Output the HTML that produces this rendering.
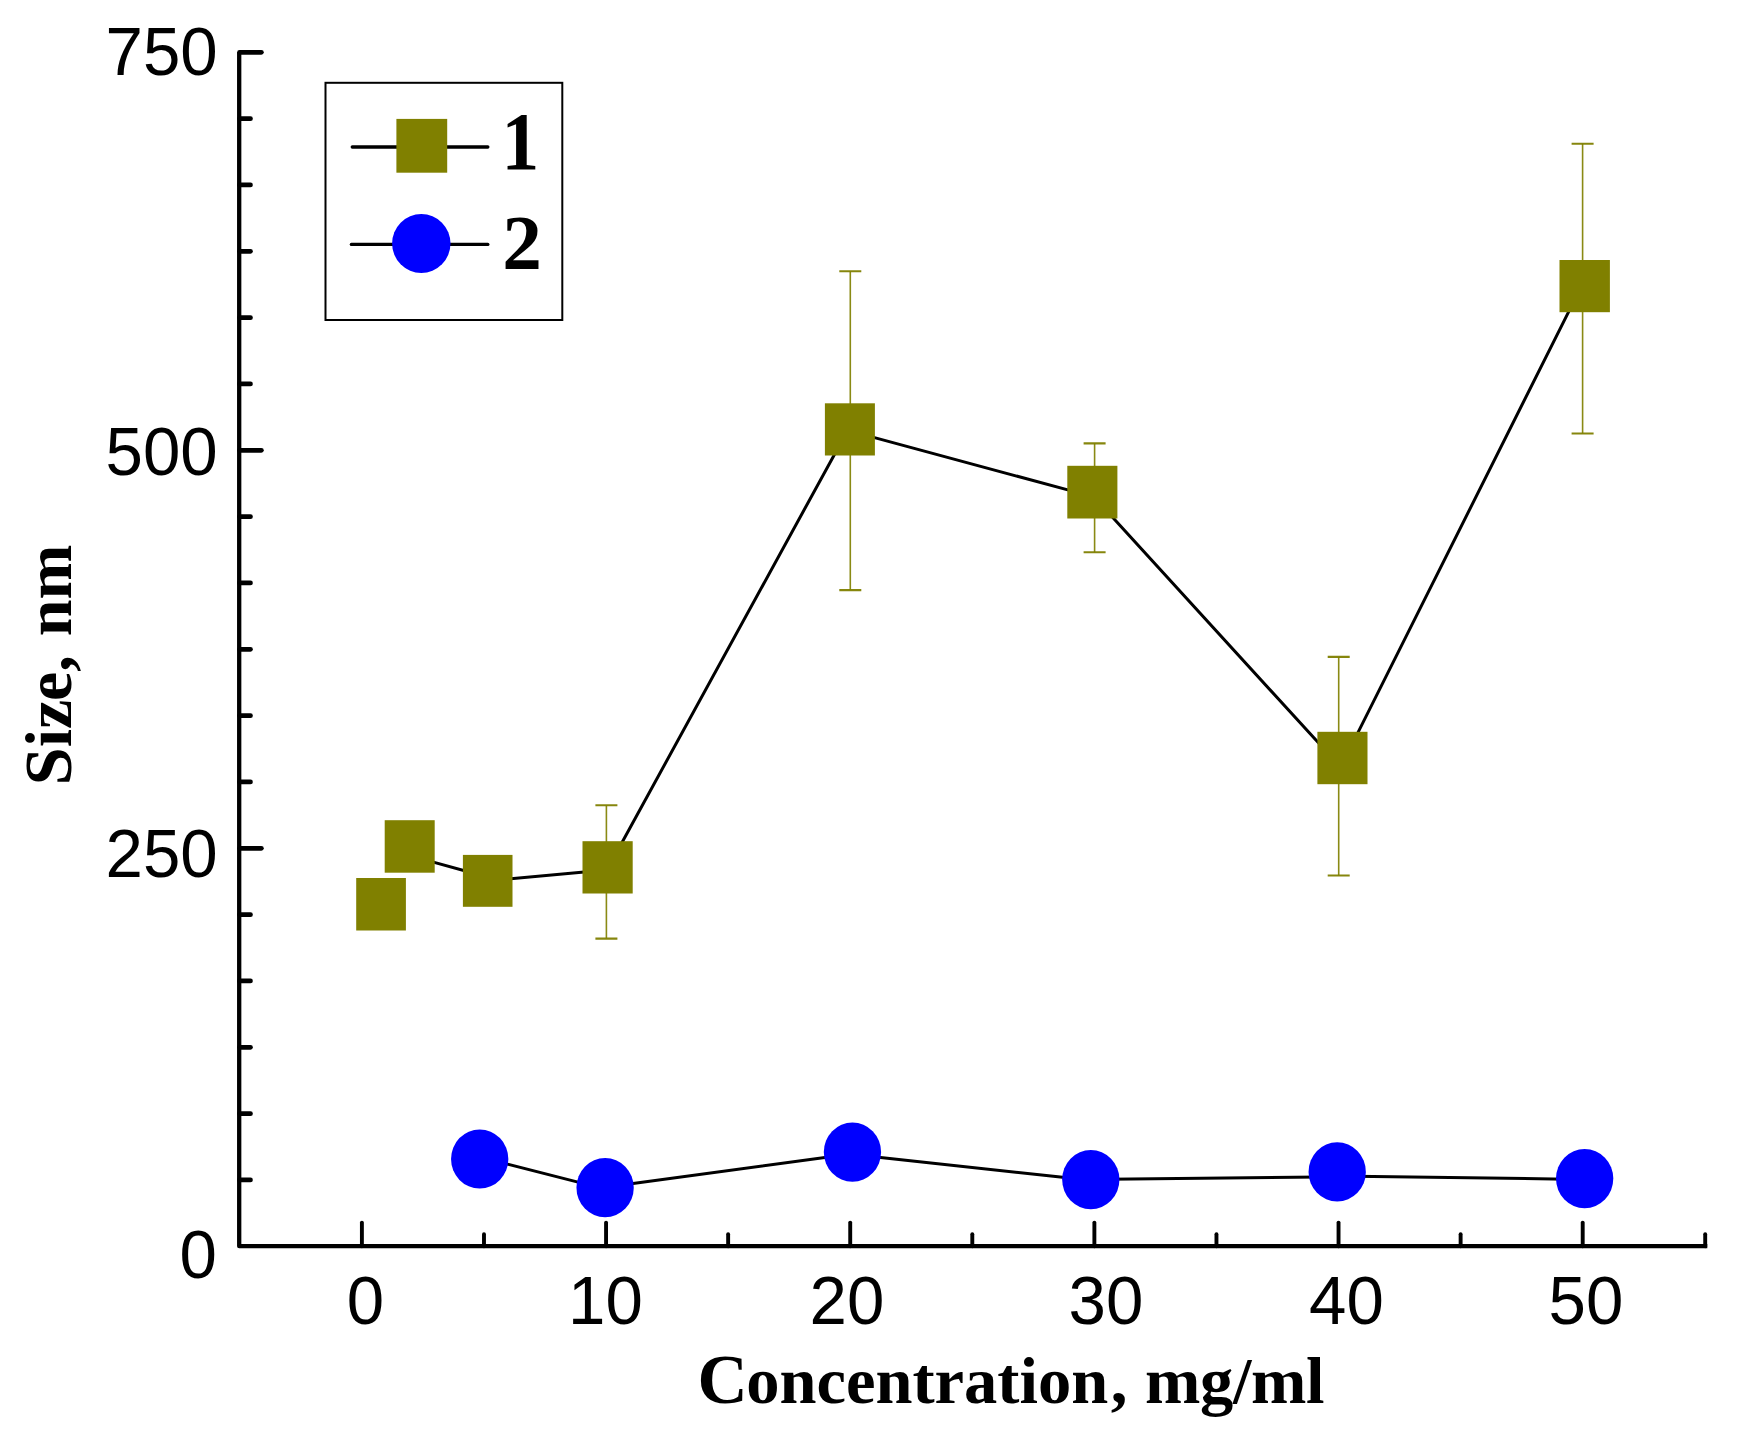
<!DOCTYPE html>
<html lang="en"><head><meta charset="utf-8"><title>Size vs Concentration</title>
<style>html,body{margin:0;padding:0;background:#fff;}svg{display:block;}</style></head>
<body>
<svg width="1739" height="1435" viewBox="0 0 1739 1435">
<rect width="1739" height="1435" fill="#fff"/>
<g stroke="#000" fill="none">
<path d="M239.2 52.3 V1246.2 H1707.3" stroke-width="4.3" stroke-linejoin="round" stroke-linecap="butt"/>
<g stroke-width="4.7" stroke-linecap="round">
<path d="M239.5 1179.97 H250.5"/>
<path d="M239.5 1113.63 H250.5"/>
<path d="M239.5 1047.30 H250.5"/>
<path d="M239.5 980.97 H250.5"/>
<path d="M239.5 914.63 H250.5"/>
<path d="M239.5 848.30 H261.4"/>
<path d="M239.5 781.97 H250.5"/>
<path d="M239.5 715.63 H250.5"/>
<path d="M239.5 649.30 H250.5"/>
<path d="M239.5 582.97 H250.5"/>
<path d="M239.5 516.63 H250.5"/>
<path d="M239.5 450.30 H261.4"/>
<path d="M239.5 383.97 H250.5"/>
<path d="M239.5 317.63 H250.5"/>
<path d="M239.5 251.30 H250.5"/>
<path d="M239.5 184.97 H250.5"/>
<path d="M239.5 118.63 H250.5"/>
<path d="M239.5 52.30 H261.4"/>
</g>
<g stroke-width="3.9" stroke-linecap="round">
<path d="M361.90 1246.2 V1222.6"/>
<path d="M483.98 1246.2 V1234.3"/>
<path d="M606.06 1246.2 V1222.6"/>
<path d="M728.14 1246.2 V1234.3"/>
<path d="M850.22 1246.2 V1222.6"/>
<path d="M972.30 1246.2 V1234.3"/>
<path d="M1094.38 1246.2 V1222.6"/>
<path d="M1216.46 1246.2 V1234.3"/>
<path d="M1338.54 1246.2 V1222.6"/>
<path d="M1460.62 1246.2 V1234.3"/>
<path d="M1582.70 1246.2 V1222.6"/>
<path d="M1705.20 1246.2 V1234.3"/>
</g></g>
<g font-family="'Liberation Sans', Arial, sans-serif" font-size="67.5" fill="#000">
<text transform="translate(217.7,74.6) scale(0.996,1.025)" text-anchor="end">750</text>
<text transform="translate(217.7,475.1) scale(0.996,1.025)" text-anchor="end">500</text>
<text transform="translate(217.7,876.6) scale(0.996,1.025)" text-anchor="end">250</text>
<text transform="translate(217.0,1278.2) scale(0.996,1.025)" text-anchor="end">0</text>
<text transform="translate(346.7,1324.2) scale(0.996,1.025)">0</text>
<text transform="translate(568.0,1324.2) scale(0.996,1.025)">10</text>
<text transform="translate(809.5,1324.2) scale(0.996,1.025)">20</text>
<text transform="translate(1068.5,1324.2) scale(0.996,1.025)">30</text>
<text transform="translate(1309.0,1324.2) scale(0.996,1.025)">40</text>
<text transform="translate(1548.5,1324.2) scale(0.996,1.025)">50</text>
</g>
<g font-family="'Liberation Serif', 'Times New Roman', serif" font-weight="bold" fill="#000">
<text transform="translate(697.6,1403.0)" font-size="66.5"><tspan font-size="69.5">C</tspan><tspan dx="-1.6">oncentration</tspan><tspan dx="2.5">, </tspan><tspan dx="1" letter-spacing="-0.35">mg/ml</tspan></text>
<text transform="translate(71.4,785.4) rotate(-90)" font-size="66"><tspan font-size="68.5">S</tspan>iz<tspan dx="-1.4">e,</tspan><tspan dx="2.5"> nm</tspan></text>
<text transform="translate(501.6,169.3) scale(0.955,1.04)" font-size="79">1</text>
<text transform="translate(502.2,268.7) scale(1.0,1.0)" font-size="79.3">2</text>
</g>
<rect x="325.5" y="82.8" width="236.8" height="237.2" fill="none" stroke="#000" stroke-width="2"/>
<g stroke="#000" stroke-width="3.4" stroke-linecap="round">
<path d="M352.3 147 H487.8"/>
<path d="M351.4 244.4 H487.8"/>
</g>
<rect x="396.4" y="118.9" width="50.8" height="53.8" fill="#808000"/>
<ellipse cx="421.3" cy="243.5" rx="29.2" ry="29.5" fill="#0000ff"/>
<path d="M425.16 859.84 L472.74 872.96 M502.44 879.41 L592.46 871.19 M617.90 849.97 L838.70 446.73 M865.25 435.09 L1077.05 492.41 M1107.06 511.21 L1324.14 749.09 M1353.92 740.64 L1572.98 303.06" fill="none" stroke="#000" stroke-width="3"/>
<g stroke="#808000" fill="none">
<path stroke-width="1.6" stroke-opacity="0.92" d="M606.4 805.2 V938.6 M850.3 271.3 V590.1 M1094.6 443.4 V552.2 M1338.7 656.9 V875.5 M1582.6 143.8 V433.5"/>
<path stroke-width="2.1" stroke-opacity="0.95" d="M595.4 805.2 H617.4 M595.4 938.6 H617.4 M839.3 271.3 H861.3 M839.3 590.1 H861.3 M1083.6 443.4 H1105.6 M1083.6 552.2 H1105.6 M1327.7 656.9 H1349.7 M1327.7 875.5 H1349.7 M1571.6 143.8 H1593.6 M1571.6 433.5 H1593.6"/>
</g>
<g fill="#808000">
<rect x="356.2" y="878.0" width="49.7" height="52.5"/>
<rect x="384.7" y="820.2" width="50.0" height="52.5"/>
<rect x="462.9" y="854.9" width="49.6" height="51.9"/>
<rect x="582.5" y="841.2" width="50.2" height="52.3"/>
<rect x="824.9" y="403.3" width="50.0" height="52.2"/>
<rect x="1067.3" y="465.8" width="50.1" height="52.7"/>
<rect x="1317.4" y="731.8" width="50.1" height="52.4"/>
<rect x="1559.5" y="260.0" width="50.4" height="52.2"/>
</g>
<path d="M496.57 1161.33 L588.73 1184.87 M621.91 1185.01 L835.99 1156.09 M869.07 1156.20 L1074.23 1178.60 M1107.40 1179.22 L1320.60 1177.08 M1353.80 1176.34 L1568.10 1179.16" fill="none" stroke="#000" stroke-width="3"/>
<g fill="#0000ff">
<ellipse cx="479.7" cy="1159.0" rx="28.65" ry="29.6"/>
<ellipse cx="605.1" cy="1187.65" rx="28.65" ry="29.6"/>
<ellipse cx="852.45" cy="1152.1" rx="28.65" ry="29.6"/>
<ellipse cx="1090.8" cy="1179.6" rx="28.65" ry="29.6"/>
<ellipse cx="1337.2" cy="1171.9" rx="28.65" ry="29.6"/>
<ellipse cx="1584.65" cy="1178.6" rx="28.65" ry="29.6"/>
</g>
</svg>
</body></html>
